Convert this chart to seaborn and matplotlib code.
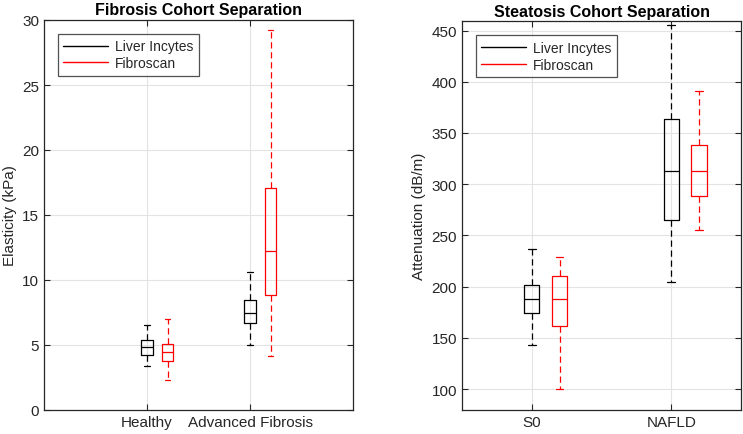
import numpy as np
import pandas as pd
import matplotlib
matplotlib.use("Agg")
import matplotlib.pyplot as plt
from matplotlib.lines import Line2D
import seaborn as sns

# Five-number summaries (min, Q1, median, Q3, max)
fib_categories = ["Healthy", "Advanced Fibrosis"]
fib_incytes = [[3.4, 4.23, 4.82, 5.38, 6.54], [5.0, 6.72, 7.44, 8.46, 10.64]]
fib_fibroscan = [[2.3, 3.79, 4.44, 5.1, 7.02], [4.13, 8.85, 12.2, 17.1, 29.2]]

ste_categories = ["S0", "NAFLD"]
ste_incytes = [[143, 174.6, 188.2, 201.6, 236.4], [204.2, 265.4, 312.9, 363.7, 455.8]]
ste_fibroscan = [[99.7, 161.5, 188.2, 210.4, 228.6], [255.6, 288.2, 312.9, 338.3, 391.4]]

methods = ["Liver Incytes", "Fibroscan"]
colors = {"Liver Incytes": "#000000", "Fibroscan": "#ff0000"}
OFFSET = 0.2

def build(incytes, fibroscan):
    rows = []
    for i, (a, b) in enumerate(zip(incytes, fibroscan)):
        for v in a:
            rows.append((i + 1, "Liver Incytes", v))
        for v in b:
            rows.append((i + 1 + OFFSET, "Fibroscan", v))
    return pd.DataFrame(rows, columns=["pos", "method", "value"])

sns.set_theme(style="white")
plt.rcParams['font.family'] = ['Liberation Sans', 'DejaVu Sans']
TXT = "#262626"

fig = plt.figure(figsize=(7.43, 4.35), dpi=100)
ax1 = fig.add_axes([44/743, 24/435, 309/743, 390/435])
ax2 = fig.add_axes([462/743, 24/435, 279/743, 388.7/435])

def draw(ax, df, cats, ylabel, title, xlim, ylim, yticks):
    sns.boxplot(data=df, x="pos", y="value", hue="method", hue_order=methods,
                palette=colors, native_scale=True, dodge=False, fill=False,
                width=0.55, whis=(0, 100), linewidth=0.9, ax=ax, legend=False,
                whiskerprops=dict(linestyle=(0, (5, 3))),
                showfliers=False)
    ax.set_xlim(*xlim)
    ax.set_ylim(*ylim)
    ax.set_xticks([1, 2])
    ax.set_xticklabels(cats)
    ax.set_yticks(yticks)
    ax.set_xlabel("")
    ax.set_ylabel(ylabel, fontsize=11, color=TXT)
    ax.set_title(title, fontsize=11.5, fontweight="bold", color="black", pad=4)
    ax.grid(True, color="#e3e3e3", linewidth=0.8)
    ax.set_axisbelow(True)
    for s in ax.spines.values():
        s.set_color(TXT)
        s.set_linewidth(0.9)
        s.set_visible(True)
    ax.tick_params(axis="both", direction="in", length=4, width=0.8, color=TXT,
                   labelsize=11, labelcolor=TXT, top=True, right=True,
                   left=True, bottom=True)
    handles = [Line2D([], [], color=colors[m], lw=1.0) for m in methods]
    leg = ax.legend(handles, methods, loc="upper left", fontsize=10,
                    frameon=True, fancybox=False, edgecolor=TXT,
                    handlelength=3.2, handletextpad=0.5,
                    borderaxespad=1.0, labelspacing=0.2, borderpad=0.4)
    leg.get_frame().set_linewidth(0.9)
    for t in leg.get_texts():
        t.set_color(TXT)

draw(ax1, build(fib_incytes, fib_fibroscan), fib_categories, "Elasticity (kPa)",
     "Fibrosis Cohort Separation", (0, 3), (0, 30), np.arange(0, 31, 5))
draw(ax2, build(ste_incytes, ste_fibroscan), ste_categories, "Attenuation (dB/m)",
     "Steatosis Cohort Separation", (0.5, 2.5), (79.5, 459), np.arange(100, 451, 50))

fig.savefig("out.png", dpi=100)
